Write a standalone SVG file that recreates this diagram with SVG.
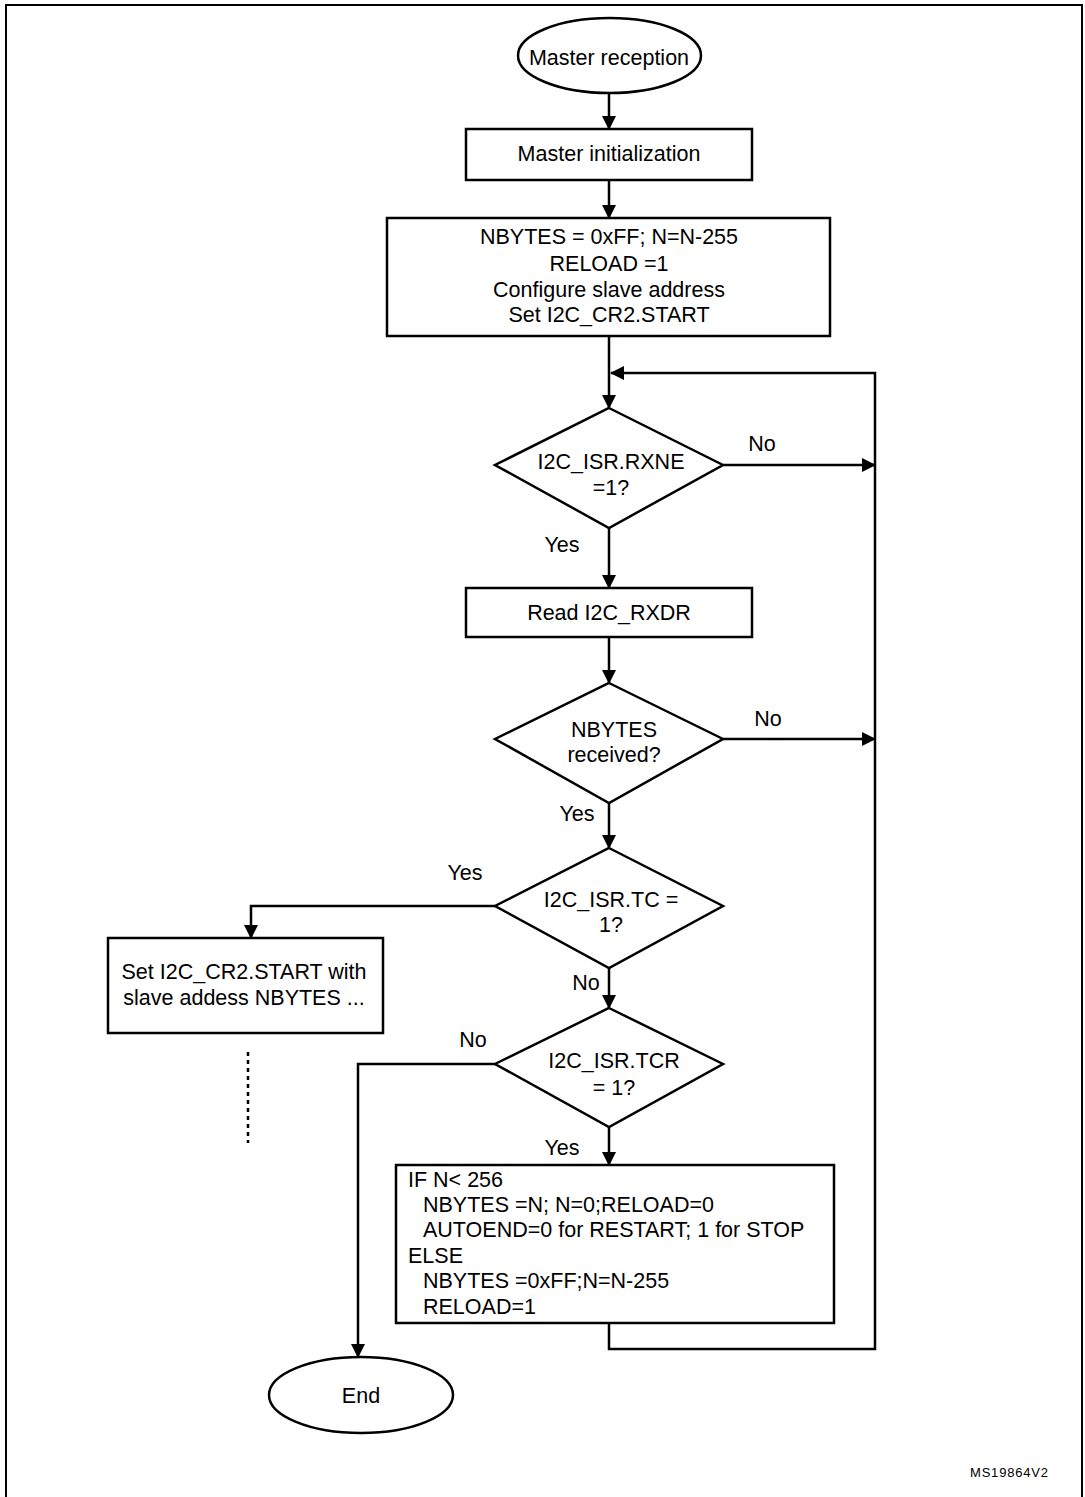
<svg xmlns="http://www.w3.org/2000/svg" width="1085" height="1497" viewBox="0 0 1085 1497">
<style>
.shape{fill:#fff;stroke:#000;stroke-width:2.5}
.conn{fill:none;stroke:#000;stroke-width:2.5}
.dot{fill:none;stroke:#000;stroke-width:2.5;stroke-dasharray:4 4}
text{font-family:"Liberation Sans",Arial,sans-serif;font-size:21.5px;fill:#000}
.c{text-anchor:middle}
.small{font-size:13px}
</style>
<defs>
<marker id="ah" markerUnits="userSpaceOnUse" markerWidth="14" markerHeight="14" viewBox="0 0 14 14" refX="13" refY="7" orient="auto">
<path d="M0,0 L14,7 L0,14 Z" fill="#000"/>
</marker>
</defs>
<rect width="1085" height="1497" fill="#fff"/>
<path d="M6,1500 V5 H1082 V1500" fill="none" stroke="#000" stroke-width="2"/>

<g id="connectors">
<path class="conn" d="M609,93 V129" marker-end="url(#ah)"/>
<path class="conn" d="M609,180 V218" marker-end="url(#ah)"/>
<path class="conn" d="M609,336 V408" marker-end="url(#ah)"/>
<path class="conn" d="M609,528 V588" marker-end="url(#ah)"/>
<path class="conn" d="M609,637 V683" marker-end="url(#ah)"/>
<path class="conn" d="M609,803 V848" marker-end="url(#ah)"/>
<path class="conn" d="M609,968 V1008" marker-end="url(#ah)"/>
<path class="conn" d="M609,1127 V1165" marker-end="url(#ah)"/>
<path class="conn" d="M723,465 H875" marker-end="url(#ah)"/>
<path class="conn" d="M723,739 H875" marker-end="url(#ah)"/>
<path class="conn" d="M495,906 H251 V938" marker-end="url(#ah)"/>
<path class="conn" d="M495,1064 H358 V1357" marker-end="url(#ah)"/>
<path class="conn" d="M609,1323 V1349 H875 V373 H611" marker-end="url(#ah)"/>
<path class="dot" d="M248,1052 V1143"/>
<text class="c" x="762" y="451">No</text>
<text class="c" x="562" y="552">Yes</text>
<text class="c" x="768" y="726">No</text>
<text class="c" x="577" y="821">Yes</text>
<text class="c" x="465" y="880">Yes</text>
<text class="c" x="586" y="990">No</text>
<text class="c" x="473" y="1047">No</text>
<text class="c" x="562" y="1155">Yes</text>
</g>

<g id="start">
<ellipse class="shape" cx="609.5" cy="55.5" rx="91.5" ry="37.5"/>
<text class="c" x="609" y="65">Master reception</text>
</g>

<g id="init">
<rect class="shape" x="466" y="129" width="286" height="51"/>
<text class="c" x="609" y="161">Master initialization</text>
</g>

<g id="config">
<rect class="shape" x="387" y="218" width="443" height="118"/>
<text class="c" x="609" y="244">NBYTES = 0xFF; N=N-255</text>
<text class="c" x="609" y="270.5">RELOAD =1</text>
<text class="c" x="609" y="296.5">Configure slave address</text>
<text class="c" x="609" y="321.5">Set I2C_CR2.START</text>
</g>

<g id="rxne">
<polygon class="shape" points="609,408 723,465 609,528 495,465"/>
<text class="c" x="611" y="469">I2C_ISR.RXNE</text>
<text class="c" x="611" y="495">=1?</text>
</g>

<g id="read">
<rect class="shape" x="466" y="588" width="286" height="49"/>
<text class="c" x="609" y="620">Read I2C_RXDR</text>
</g>

<g id="nbytes">
<polygon class="shape" points="609,683 723,739 609,803 495,739"/>
<text class="c" x="614" y="737">NBYTES</text>
<text class="c" x="614" y="762">received?</text>
</g>

<g id="tc">
<polygon class="shape" points="609,848 723,906 609,968 495,906"/>
<text class="c" x="611" y="907">I2C_ISR.TC =</text>
<text class="c" x="611" y="932">1?</text>
</g>

<g id="restart">
<rect class="shape" x="108" y="938" width="275" height="95"/>
<text class="c" x="244" y="979">Set I2C_CR2.START with</text>
<text class="c" x="244" y="1005">slave addess NBYTES ...</text>
</g>

<g id="tcr">
<polygon class="shape" points="609,1008 723,1064 609,1127 495,1064"/>
<text class="c" x="614" y="1068">I2C_ISR.TCR</text>
<text class="c" x="614" y="1095">= 1?</text>
</g>

<g id="reload">
<rect class="shape" x="396" y="1165" width="438" height="158"/>
<text x="408" y="1187">IF N&lt; 256</text>
<text x="423" y="1212">NBYTES =N; N=0;RELOAD=0</text>
<text x="423" y="1237">AUTOEND=0 for RESTART; 1 for STOP</text>
<text x="408" y="1263">ELSE</text>
<text x="423" y="1288">NBYTES =0xFF;N=N-255</text>
<text x="423" y="1314">RELOAD=1</text>
</g>

<g id="end">
<ellipse class="shape" cx="361" cy="1395" rx="92" ry="38"/>
<text class="c" x="361" y="1403">End</text>
</g>

<text class="small" x="970" y="1477" textLength="78">MS19864V2</text>
</svg>
